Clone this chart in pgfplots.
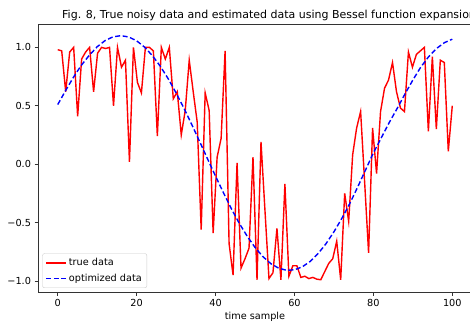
\documentclass[border=0pt]{standalone}
\usepackage{fontspec}
\setmainfont{DejaVu Sans}
\usepackage{pgfplots}
\pgfplotsset{compat=1.18}
\begin{document}
\begin{tikzpicture}
\begin{axis}[
  at={(0,0)}, anchor=south west,
  scale only axis, width=434pt, height=268pt,
  xmin=-5, xmax=105, ymin=-1.095, ymax=1.2,
  xtick={0,20,40,60,80,100},
  ytick={-1,-0.5,0,0.5,1},
  yticklabels={−1.0,−0.5,0.0,0.5,1.0},
  /pgf/number format/assume math mode=true,
  tick align=outside, tick pos=left, major tick length=3.5pt,
  tick style={black!80, line width=0.7pt},
  axis line style={black!80, line width=0.7pt},
  ticklabel style={font=\fontsize{9.7}{11}\selectfont},
  legend style={at={(0.01,0.015)}, anchor=south west, draw=black!20,
    rounded corners=2pt, font=\fontsize{9.7}{11}\selectfont,
    inner sep=3pt, row sep=2.5pt},
  legend cell align=left,
  legend image code/.code={\draw[#1] (0pt,0pt) -- (20pt,0pt);},
]
\addplot[red, line width=1.4pt] table {
x y
0 0.98
1.01 0.97
2.02 0.62
3.03 0.96
4.04 1.00
5.05 0.41
6.06 0.90
7.07 0.96
8.08 1.00
9.09 0.62
10.10 0.95
11.11 1.00
12.12 0.99
13.13 1.00
14.14 0.50
15.15 1.00
16.16 0.83
17.17 0.89
18.18 0.02
19.19 1.00
20.20 0.70
21.21 0.61
22.22 1.00
23.23 1.00
24.24 0.97
25.25 0.24
26.26 1.00
27.27 0.90
28.28 1.00
29.29 0.56
30.30 0.62
31.31 0.25
32.32 0.46
33.33 0.89
34.34 0.62
35.35 0.36
36.36 -0.56
37.37 0.61
38.38 0.46
39.39 -0.59
40.40 0.06
41.41 0.22
42.42 0.97
43.43 -0.68
44.44 -0.95
45.45 0.01
46.46 -0.89
47.47 -0.81
48.48 -0.72
49.49 0.06
50.51 -0.99
51.52 0.19
52.53 -0.40
53.54 -0.98
54.55 -0.93
55.56 -0.55
56.57 -0.99
57.58 -0.17
58.59 -0.96
59.60 -0.87
60.61 -0.87
61.62 -0.97
62.63 -0.96
63.64 -0.98
64.65 -0.97
65.66 -0.985
66.67 -0.99
67.68 -0.92
68.69 -0.85
69.70 -0.81
70.71 -0.66
71.72 -0.99
72.73 -0.25
73.74 -0.49
74.75 0.08
75.76 0.31
76.77 0.45
77.78 -0.15
78.79 -0.76
79.80 0.31
80.81 -0.08
81.82 0.45
82.83 0.65
83.84 0.72
84.85 0.87
85.86 0.62
86.87 0.48
87.88 0.45
88.89 0.96
89.90 0.83
90.91 0.94
91.92 0.97
92.93 1.00
93.94 0.28
94.95 0.92
95.96 0.30
96.97 0.89
97.98 0.87
98.99 0.11
100 0.50
};
\addlegendentry{true data}
\addplot[blue, line width=1.4pt, dash pattern=on 5pt off 2.6pt] table {
x y
0 0.51
2 0.63
4 0.745
6 0.847
8 0.932
10 1.005
12 1.058
14 1.090
16 1.100
18 1.089
20 1.056
22 1.002
24 0.929
26 0.838
28 0.731
30 0.610
32 0.478
34 0.337
36 0.191
38 0.043
40 -0.103
42 -0.245
44 -0.381
46 -0.506
48 -0.616
50 -0.713
52 -0.792
54 -0.852
56 -0.891
58 -0.909
60 -0.905
62 -0.879
64 -0.833
66 -0.766
68 -0.681
70 -0.580
72 -0.465
74 -0.339
76 -0.198
78 -0.051
80 0.096
82 0.225
84 0.355
86 0.475
88 0.600
90 0.720
92 0.830
94 0.920
96 0.990
98 1.040
100 1.070
};
\addlegendentry{optimized data}
\end{axis}
\node[anchor=base west, font=\fontsize{11}{13}\selectfont, inner sep=0pt] at (24pt,273.5pt) {Fig. 8, True noisy data and estimated data using Bessel function expansion};
\node[anchor=base, font=\fontsize{9.7}{11}\selectfont, inner sep=0pt] at (217pt,-27pt) {time sample};
\pgfresetboundingbox
\path[use as bounding box] (-38pt,-30pt) rectangle (432pt,292pt);
\end{tikzpicture}
\end{document}
